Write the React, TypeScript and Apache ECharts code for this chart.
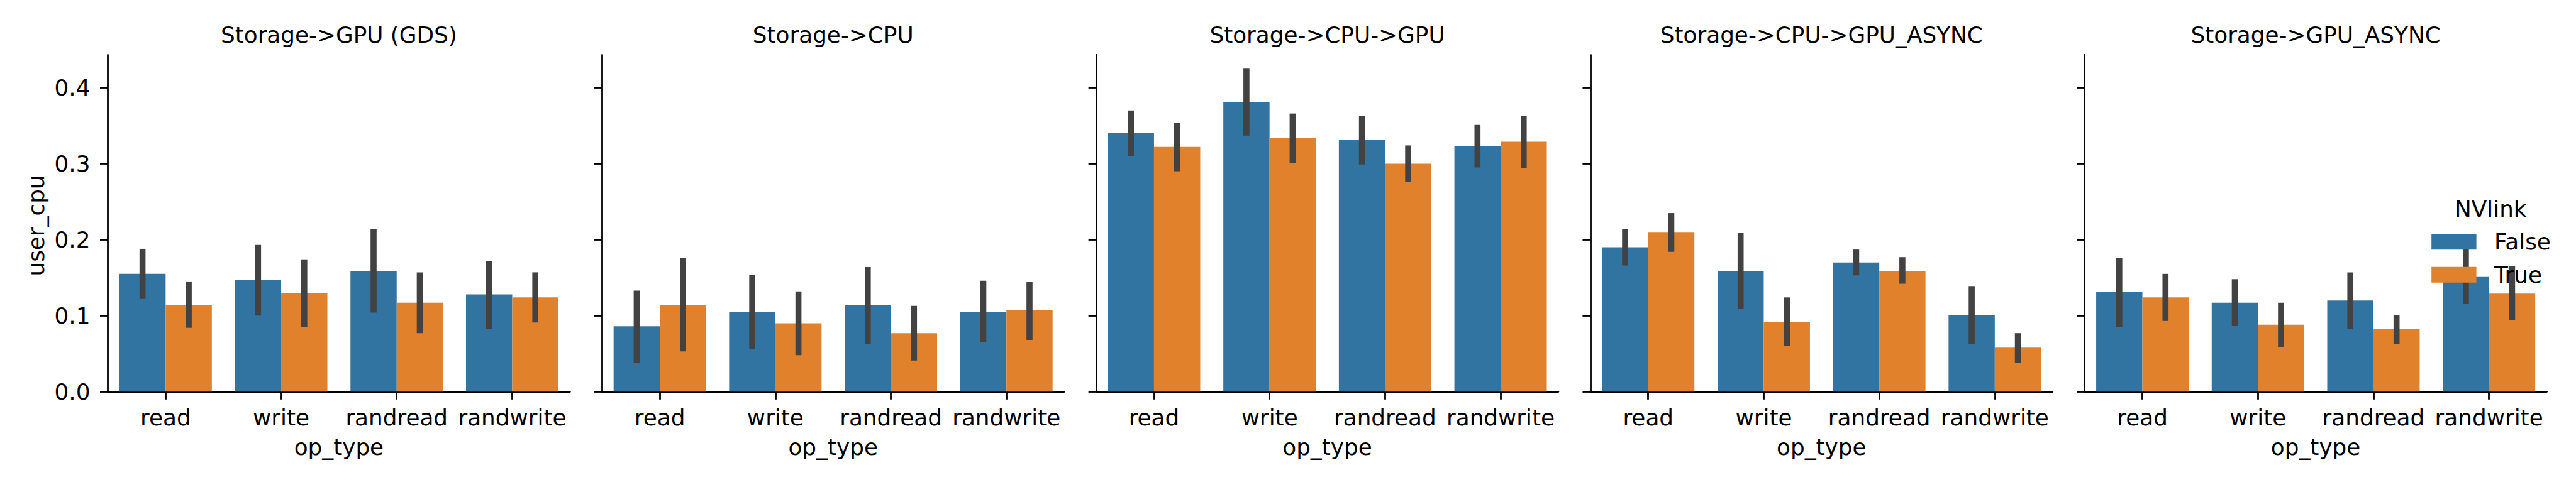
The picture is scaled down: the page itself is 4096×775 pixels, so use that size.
import React, { useEffect, useRef } from 'react';
import * as echarts from 'echarts';

// ---------- data ----------
const categories = ['read', 'write', 'randread', 'randwrite'];
const panelTitles = [
  'Storage->GPU (GDS)',
  'Storage->CPU',
  'Storage->CPU->GPU',
  'Storage->CPU->GPU_ASYNC',
  'Storage->GPU_ASYNC',
];
const hueTitle = 'NVlink';
const hueLabels = ['False', 'True'];
const yTickValues = [0, 0.1, 0.2, 0.3, 0.4];
const yMax = 0.443;

const gdsFalse = [0.155, 0.147, 0.159, 0.128];
const gdsTrue = [0.114, 0.13, 0.117, 0.124];
const gdsFalseCI = [[0.122, 0.188], [0.1, 0.193], [0.104, 0.214], [0.083, 0.172]];
const gdsTrueCI = [[0.084, 0.145], [0.085, 0.174], [0.077, 0.157], [0.091, 0.157]];

const cpuFalse = [0.086, 0.105, 0.114, 0.105];
const cpuTrue = [0.114, 0.09, 0.077, 0.107];
const cpuFalseCI = [[0.038, 0.133], [0.056, 0.154], [0.063, 0.164], [0.065, 0.146]];
const cpuTrueCI = [[0.053, 0.176], [0.048, 0.132], [0.041, 0.113], [0.068, 0.145]];

const cpuGpuFalse = [0.34, 0.381, 0.331, 0.323];
const cpuGpuTrue = [0.322, 0.334, 0.3, 0.329];
const cpuGpuFalseCI = [[0.31, 0.37], [0.337, 0.425], [0.299, 0.363], [0.295, 0.351]];
const cpuGpuTrueCI = [[0.29, 0.354], [0.301, 0.366], [0.276, 0.324], [0.294, 0.363]];

const cpuGpuAsyncFalse = [0.19, 0.159, 0.17, 0.101];
const cpuGpuAsyncTrue = [0.21, 0.092, 0.159, 0.058];
const cpuGpuAsyncFalseCI = [[0.166, 0.214], [0.109, 0.209], [0.153, 0.187], [0.063, 0.139]];
const cpuGpuAsyncTrueCI = [[0.184, 0.235], [0.06, 0.124], [0.142, 0.177], [0.038, 0.077]];

const gpuAsyncFalse = [0.131, 0.117, 0.12, 0.151];
const gpuAsyncTrue = [0.124, 0.088, 0.082, 0.129];
const gpuAsyncFalseCI = [[0.085, 0.176], [0.087, 0.148], [0.083, 0.157], [0.116, 0.19]];
const gpuAsyncTrueCI = [[0.093, 0.155], [0.059, 0.117], [0.063, 0.101], [0.094, 0.165]];

const meansFalse = [gdsFalse, cpuFalse, cpuGpuFalse, cpuGpuAsyncFalse, gpuAsyncFalse];
const meansTrue = [gdsTrue, cpuTrue, cpuGpuTrue, cpuGpuAsyncTrue, gpuAsyncTrue];
const ciFalse = [gdsFalseCI, cpuFalseCI, cpuGpuFalseCI, cpuGpuAsyncFalseCI, gpuAsyncFalseCI];
const ciTrue = [gdsTrueCI, cpuTrueCI, cpuGpuTrueCI, cpuGpuAsyncTrueCI, gpuAsyncTrueCI];

// ---------- style / layout ----------
const FONT = 35.8;
const FAMILY = '"DejaVu Sans", sans-serif';
const COLORS = ['#3274a1', '#e1812c'];
const ERR_COLOR = '#424242';
const ERR_WIDTH = 9.6;
const LINE_W = 2.8;
const TICK_LEN = 12.5;
const GRID_LEFT0 = 171.5;
const GRID_STEP = 785.8;
const GRID_W = 734.8;
const GRID_TOP = 87.5;
const GRID_BOTTOM_Y = 623.3;

function txt(text: string, x: number, y: number, align: string, extra: any = {}) {
  return {
    type: 'text',
    z: 100,
    x,
    y,
    silent: true,
    ...extra,
    style: {
      text,
      fill: '#000',
      font: `${FONT}px ${FAMILY}`,
      fontSize: FONT,
      fontFamily: FAMILY,
      align,
      textAlign: align,
      verticalAlign: 'middle',
      textVerticalAlign: 'middle',
    },
  };
}

function buildOption() {
  const n = panelTitles.length;
  const grid: any[] = [];
  const xAxis: any[] = [];
  const yAxis: any[] = [];
  const series: any[] = [];
  const graphic: any[] = [];

  for (let i = 0; i < n; i++) {
    const left = GRID_LEFT0 + i * GRID_STEP;
    grid.push({ left, top: GRID_TOP, width: GRID_W, height: GRID_BOTTOM_Y - GRID_TOP, containLabel: false });
    xAxis.push({
      type: 'category',
      gridIndex: i,
      data: categories,
      boundaryGap: true,
      axisLine: { show: true, lineStyle: { color: '#000', width: LINE_W } },
      axisTick: { show: true, alignWithLabel: true, length: TICK_LEN, lineStyle: { color: '#000', width: LINE_W } },
      axisLabel: { show: true, interval: 0, color: '#000', fontSize: FONT, fontFamily: FAMILY, margin: 23 },
      splitLine: { show: false },
    });
    yAxis.push({
      type: 'value',
      gridIndex: i,
      min: 0,
      max: yMax,
      axisLine: { show: true, lineStyle: { color: '#000', width: LINE_W } },
      axisTick: { show: true, length: TICK_LEN, customValues: yTickValues, lineStyle: { color: '#000', width: LINE_W } },
      axisLabel: {
        show: i === 0,
        customValues: yTickValues,
        color: '#000',
        fontSize: FONT,
        fontFamily: FAMILY,
        margin: 28,
        formatter: (v: number) => v.toFixed(1),
      },
      splitLine: { show: false },
    });

    const hues = [
      { mean: meansFalse[i], ci: ciFalse[i], off: -0.2 },
      { mean: meansTrue[i], ci: ciTrue[i], off: 0.2 },
    ];
    hues.forEach((h, hi) => {
      series.push({
        type: 'bar',
        name: hueLabels[hi],
        xAxisIndex: i,
        yAxisIndex: i,
        data: h.mean,
        barWidth: '40%',
        barGap: '0%',
        itemStyle: { color: COLORS[hi] },
        z: 2,
        silent: true,
      });
    });
    hues.forEach((h) => {
      series.push({
        type: 'custom',
        xAxisIndex: i,
        yAxisIndex: i,
        z: 3,
        silent: true,
        data: h.ci.map((c, ci) => [ci, c[0], c[1]]),
        encode: { x: 0, y: [1, 2] },
        renderItem: (params: any, api: any) => {
          const c = api.value(0);
          const lo = api.coord([c, api.value(1)]);
          const hiP = api.coord([c, api.value(2)]);
          const band = api.size([1, 0])[0];
          const x = lo[0] + h.off * band;
          return {
            type: 'line',
            shape: { x1: x, y1: lo[1], x2: x, y2: hiP[1] },
            style: { stroke: ERR_COLOR, lineWidth: ERR_WIDTH, lineCap: 'butt' },
          };
        },
      });
    });

    const cx = left + GRID_W / 2;
    graphic.push(txt(panelTitles[i], cx, 55.2, 'center'));
    graphic.push(txt('op_type', cx, 711, 'center'));
  }

  // y-axis label
  graphic.push(txt('user_cpu', 57.3, 359, 'center', { rotation: Math.PI / 2 }));

  // legend
  graphic.push(txt(hueTitle, 3903, 332.3, 'left'));
  const patchX = 3866.2;
  const patchW = 71.4;
  const patchH = 25.0;
  const patchYs = [372.2, 424.7];
  const labelYs = [384.9, 437.2];
  hueLabels.forEach((lab, k) => {
    graphic.push({
      type: 'rect',
      z: 100,
      silent: true,
      shape: { x: patchX, y: patchYs[k], width: patchW, height: patchH },
      style: { fill: COLORS[k] },
    });
    graphic.push(txt(lab, 3966, labelYs[k], 'left'));
  });

  return {
    animation: false,
    backgroundColor: '#ffffff',
    grid,
    xAxis,
    yAxis,
    series,
    graphic: { elements: graphic },
  };
}

export default function App() {
  const ref = useRef<HTMLDivElement>(null);
  useEffect(() => {
    if (!ref.current) return;
    const chart = echarts.init(ref.current, null, { renderer: 'svg' });
    chart.setOption(buildOption() as any);
    return () => chart.dispose();
  }, []);
  return (
    <div
      ref={ref}
      style={{ position: 'fixed', left: 0, top: 0, width: 4096, height: 775, background: '#fff' }}
    />
  );
}
